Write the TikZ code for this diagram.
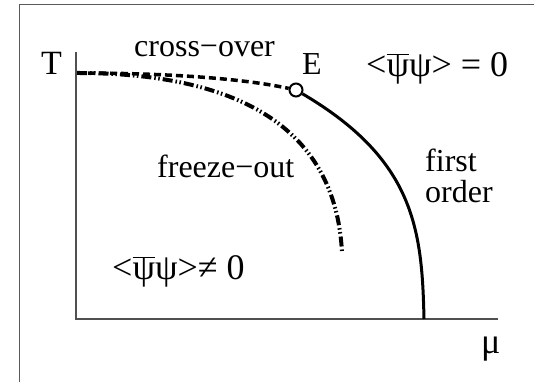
\documentclass[tikz,border=0pt]{standalone}
\usepackage{fontspec}
\setmainfont{Liberation Serif}
\usetikzlibrary{positioning}
\definecolor{axisgray}{RGB}{80,80,80}
\definecolor{framegray}{RGB}{90,90,90}
\newcommand{\psibar}{$\overline{\mbox{ψ}}$}

\tikzset{
  lbl/.style={inner sep=0pt, anchor=base west, font=\fontsize{32}{38}\selectfont},
  biglbl/.style={lbl, font=\fontsize{36}{42}\selectfont},
  axis/.style={axisgray, line width=2pt},
  crossover/.style={line width=3.5pt, dash pattern=on 7pt off 4pt},
  freezeout/.style={line width=4pt, dash pattern=on 10pt off 3pt on 1.5pt off 2.5pt on 1.5pt off 3pt},
  firstorder/.style={line width=3pt},
}

\begin{document}
\begin{tikzpicture}[x=1pt, y=1pt]
  \useasboundingbox (0,0) rectangle (534,382);
  % frame and axes
  \draw[framegray, line width=1.5pt] (19.5,0) |- (534,377.5);
  \coordinate (top) at (76,330);
  \coordinate (orig) at (76,63);
  \coordinate (right) at (498,63);
  \draw[axis] (top) -- (orig) -- (right);
  \coordinate (start) at (77,309);
  \coordinate (muend) at (424,63);
  \node[circle, draw, line width=2pt, fill=white, minimum size=13pt, inner sep=0pt] (cep) at (296,292) {};
  % transition lines
  \draw[crossover] (start) .. controls (180,309) and (250,302) .. (cep);
  \draw[freezeout] (start) .. controls (210,309) and (335,272) .. (342,129);
  \draw[firstorder] (cep) .. controls (415,222) and (422,152) .. (muend);
  % labels
  \node[lbl, font=\fontsize{34}{40}\selectfont] (tlab) at (41,307) {T};
  \node[biglbl] (mulab) at (481,29) {μ};
  \node[lbl] (cross) at (134,325) {cross−over};
  \node[lbl] (elab) at (302,307) {E};
  \node[biglbl] (zero) at (366,305) {<\psibar ψ> = 0};
  \node[lbl] (freeze) at (157,204) {freeze−out};
  \node[lbl] (first) at (425,210) {first};
  \node[lbl] (order) at (425,179) {order};
  \node[biglbl] (nonzero) at (112,102) {<\psibar ψ>≠ 0};
\end{tikzpicture}
\end{document}
